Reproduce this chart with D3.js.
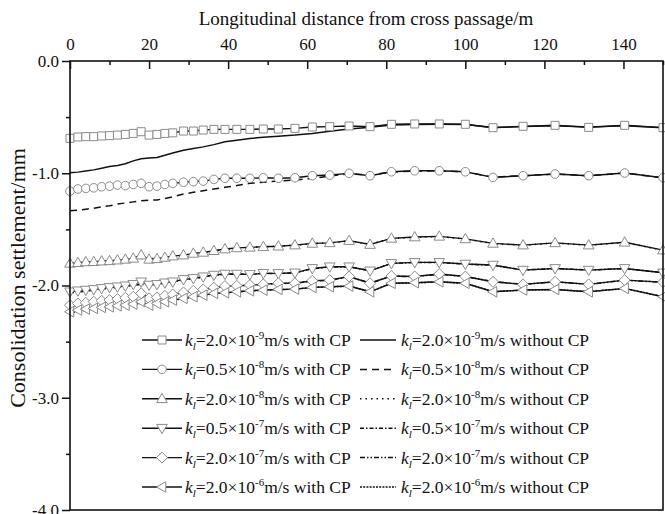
<!DOCTYPE html>
<html><head><meta charset="utf-8">
<script src="https://cdn.jsdelivr.net/npm/d3@7"></script>
<style>
body{margin:0;background:#fff}
svg{display:block}
text{font-family:"Liberation Serif","Times New Roman",serif;fill:#111}
</style>
</head><body>
<svg id="c" width="665" height="514"></svg>
<script>
// ---------- DATA ----------
const distance = [0,2,4,6,8,10,12,14,16,18,20,22,24,26,28.7,31.2,33.7,36.4,39.2,42.2,45.5,48.9,52.7,56.9,61.3,65.7,70.6,75.9,81.3,87.2,93.4,100,107,114.6,122.7,131.2,140.3,150];

const xTicks = [0,20,40,60,80,100,120,140];
const xMinorTicks = [10,30,50,70,90,110,130,150];
const yTicks = [0,-1,-2,-3,-4];
const yMinorTicks = [-0.5,-1.5,-2.5,-3.5];

const coefLabels = ["2.0","0.5","2.0","0.5","2.0","2.0"];
const expLabels  = ["-9","-8","-8","-7","-7","-6"];

// with cross passage (markers)
const cp_2e9 = [-0.689,-0.677,-0.674,-0.674,-0.668,-0.665,-0.66,-0.654,-0.645,-0.63,-0.66,-0.654,-0.645,-0.64,-0.624,-0.624,-0.615,-0.609,-0.609,-0.609,-0.609,-0.606,-0.606,-0.6,-0.588,-0.585,-0.579,-0.585,-0.564,-0.561,-0.561,-0.564,-0.594,-0.582,-0.573,-0.591,-0.573,-0.594];
const cp_05e8 = [-1.16,-1.14,-1.135,-1.13,-1.12,-1.115,-1.105,-1.11,-1.10,-1.09,-1.12,-1.115,-1.10,-1.09,-1.08,-1.075,-1.07,-1.055,-1.045,-1.045,-1.045,-1.04,-1.045,-1.04,-1.022,-1.016,-1.001,-1.022,-0.987,-0.978,-0.978,-0.987,-1.037,-1.022,-1.007,-1.022,-0.998,-1.04];
const cp_2e8 = [-1.803,-1.797,-1.79,-1.788,-1.783,-1.78,-1.774,-1.767,-1.758,-1.729,-1.767,-1.762,-1.75,-1.738,-1.729,-1.714,-1.705,-1.69,-1.675,-1.665,-1.66,-1.655,-1.65,-1.64,-1.625,-1.62,-1.60,-1.635,-1.58,-1.568,-1.562,-1.585,-1.625,-1.64,-1.62,-1.64,-1.615,-1.685];
const cp_05e7 = [-2.056,-2.047,-2.041,-2.035,-2.026,-2.017,-2.011,-2.003,-1.99,-1.967,-1.996,-1.99,-1.976,-1.967,-1.946,-1.937,-1.922,-1.907,-1.898,-1.898,-1.901,-1.892,-1.892,-1.887,-1.848,-1.833,-1.833,-1.869,-1.803,-1.794,-1.794,-1.809,-1.818,-1.863,-1.848,-1.863,-1.848,-1.887];
const cp_2e7 = [-2.175,-2.16,-2.154,-2.145,-2.136,-2.13,-2.121,-2.11,-2.1,-2.07,-2.115,-2.106,-2.092,-2.08,-2.062,-2.047,-2.035,-2.02,-2.005,-2.003,-1.996,-1.99,-1.98,-1.98,-1.958,-1.952,-1.92,-1.98,-1.916,-1.92,-1.898,-1.92,-1.967,-1.99,-1.967,-1.99,-1.952,-1.97];
const cp_2e6 = [-2.234,-2.219,-2.21,-2.204,-2.195,-2.19,-2.181,-2.175,-2.166,-2.145,-2.175,-2.16,-2.145,-2.13,-2.115,-2.1,-2.086,-2.07,-2.065,-2.056,-2.047,-2.041,-2.035,-2.032,-2.017,-2.011,-2.005,-2.056,-1.98,-1.975,-1.967,-1.98,-2.056,-2.04,-2.035,-2.056,-2.026,-2.10];

// without cross passage (lines)
const nocp_2e9 = [-0.995,-0.99,-0.98,-0.97,-0.955,-0.94,-0.93,-0.915,-0.89,-0.87,-0.865,-0.86,-0.84,-0.82,-0.795,-0.78,-0.765,-0.745,-0.72,-0.705,-0.69,-0.68,-0.67,-0.66,-0.645,-0.625,-0.605,-0.59,-0.57,-0.565,-0.563,-0.566,-0.592,-0.583,-0.576,-0.588,-0.577,-0.594];
const nocp_05e8 = [-1.334,-1.33,-1.32,-1.313,-1.30,-1.29,-1.275,-1.265,-1.255,-1.245,-1.24,-1.238,-1.225,-1.21,-1.185,-1.17,-1.155,-1.14,-1.125,-1.11,-1.09,-1.08,-1.07,-1.06,-1.046,-1.025,-1.005,-1.015,-0.99,-0.98,-0.978,-0.987,-1.035,-1.022,-1.007,-1.022,-0.998,-1.04];
const nocp_2e8 = [-1.815,-1.81,-1.803,-1.797,-1.79,-1.785,-1.778,-1.77,-1.765,-1.76,-1.762,-1.758,-1.75,-1.74,-1.73,-1.718,-1.707,-1.693,-1.678,-1.667,-1.66,-1.655,-1.65,-1.64,-1.627,-1.622,-1.603,-1.632,-1.582,-1.57,-1.563,-1.586,-1.626,-1.641,-1.621,-1.641,-1.616,-1.686];
const nocp_05e7 = [-2.065,-2.058,-2.05,-2.042,-2.033,-2.025,-2.017,-2.008,-1.998,-1.99,-1.993,-1.988,-1.978,-1.968,-1.95,-1.94,-1.925,-1.91,-1.90,-1.90,-1.90,-1.893,-1.892,-1.888,-1.85,-1.835,-1.834,-1.868,-1.804,-1.795,-1.795,-1.81,-1.819,-1.862,-1.849,-1.862,-1.849,-1.886];
const nocp_2e7 = [-2.19,-2.175,-2.165,-2.155,-2.145,-2.135,-2.127,-2.117,-2.107,-2.095,-2.11,-2.103,-2.092,-2.08,-2.065,-2.05,-2.037,-2.022,-2.008,-2.004,-1.998,-1.99,-1.982,-1.98,-1.96,-1.953,-1.921,-1.979,-1.917,-1.921,-1.899,-1.921,-1.966,-1.989,-1.968,-1.989,-1.953,-1.971];
const nocp_2e6 = [-2.245,-2.23,-2.218,-2.208,-2.198,-2.19,-2.182,-2.175,-2.168,-2.158,-2.172,-2.16,-2.147,-2.132,-2.117,-2.102,-2.088,-2.072,-2.066,-2.057,-2.048,-2.042,-2.036,-2.033,-2.018,-2.012,-2.006,-2.055,-1.981,-1.976,-1.968,-1.981,-2.055,-2.041,-2.036,-2.055,-2.027,-2.099];

const cpSeries   = [cp_2e9, cp_05e8, cp_2e8, cp_05e7, cp_2e7, cp_2e6];
const nocpSeries = [nocp_2e9, nocp_05e8, nocp_2e8, nocp_05e7, nocp_2e7, nocp_2e6];

// ---------- STYLE ----------
const markerShapes = ["square","circle","up","down","diamond","left"];
const dashes = [null,"7,5","1.5,4","4,2,1.5,2","5,2,1.5,2,1.5,2","2,1.2"];

const svg = d3.select("#c");
const x = d3.scaleLinear().domain([0,150]).range([70,663]);
const y = d3.scaleLinear().domain([-4,0]).range([510,61]);

function markerPath(shape, cx, cy){
  const p = d3.path();
  if(shape==="square"){ p.rect(cx-4,cy-4,8,8); }
  else if(shape==="circle"){ p.moveTo(cx+4.3,cy); p.arc(cx,cy,4.3,0,2*Math.PI); }
  else if(shape==="up"){ p.moveTo(cx,cy-5.5); p.lineTo(cx+5.3,cy+3.8); p.lineTo(cx-5.3,cy+3.8); p.closePath(); }
  else if(shape==="down"){ p.moveTo(cx,cy+5.5); p.lineTo(cx+5.3,cy-3.8); p.lineTo(cx-5.3,cy-3.8); p.closePath(); }
  else if(shape==="diamond"){ p.moveTo(cx,cy-5.5); p.lineTo(cx+5.5,cy); p.lineTo(cx,cy+5.5); p.lineTo(cx-5.5,cy); p.closePath(); }
  else if(shape==="left"){ p.moveTo(cx-5.5,cy); p.lineTo(cx+3.8,cy-5.3); p.lineTo(cx+3.8,cy+5.3); p.closePath(); }
  return p.toString();
}

const line = d3.line().x((d,i)=>x(distance[i])).y(d=>y(d));

// without-CP lines
const gNo = svg.append("g");
nocpSeries.forEach((s,k)=>{
  gNo.append("path").attr("d", line(s)).attr("fill","none")
    .attr("stroke","#111").attr("stroke-width",1.5)
    .attr("stroke-dasharray", dashes[k]);
});
// with-CP lines + markers
const gCp = svg.append("g");
cpSeries.forEach((s,k)=>{
  gCp.append("path").attr("d", line(s)).attr("fill","none")
    .attr("stroke","#111").attr("stroke-width",1.4);
});
cpSeries.forEach((s,k)=>{
  gCp.append("g").selectAll("path").data(s).join("path")
    .attr("d",(d,i)=>markerPath(markerShapes[k], x(distance[i]), y(d)))
    .attr("fill","#fff").attr("stroke","#8a8a8a").attr("stroke-width",1);
});

// ---------- AXES ----------
const axTop = svg.append("g").attr("transform","translate(0,61)")
  .call(d3.axisTop(x).tickValues(xTicks).tickSize(-8).tickPadding(11).tickFormat(d=>String(d)));
axTop.select(".domain").remove();
axTop.selectAll("text").style("font-size","17px").attr("font-family",'"Liberation Serif",serif');
axTop.selectAll("line").attr("stroke","#111").attr("stroke-width",1.5);
svg.append("g").attr("transform","translate(0,61)")
  .call(d3.axisTop(x).tickValues(xMinorTicks).tickSize(-4).tickFormat(""))
  .call(g=>{g.select(".domain").remove(); g.selectAll("line").attr("stroke","#111").attr("stroke-width",1.5);});

const axLeft = svg.append("g").attr("transform","translate(70,0)")
  .call(d3.axisLeft(y).tickValues(yTicks).tickSize(8).tickPadding(3).tickFormat(d=>d.toFixed(1)));
axLeft.select(".domain").remove();
axLeft.selectAll("text").style("font-size","17px").attr("font-family",'"Liberation Serif",serif');
axLeft.selectAll("line").attr("stroke","#111").attr("stroke-width",1.5);
svg.append("g").attr("transform","translate(70,0)")
  .call(d3.axisLeft(y).tickValues(yMinorTicks).tickSize(4).tickFormat(""))
  .call(g=>{g.select(".domain").remove(); g.selectAll("line").attr("stroke","#111").attr("stroke-width",1.5);});

// frame
svg.append("rect").attr("x",70).attr("y",61).attr("width",593).attr("height",449)
  .attr("fill","none").attr("stroke","#111").attr("stroke-width",1.6);

// titles
svg.append("text").attr("x",366).attr("y",25).attr("text-anchor","middle")
  .style("font-size","19px").text("Longitudinal distance from cross passage/m");
svg.append("text").attr("transform","translate(25,278) rotate(-90)").attr("text-anchor","middle")
  .style("font-size","22px").text("Consolidation settlement/mm");

// ---------- LEGEND ----------
const legY0 = 340, legDy = 29.4;
const gL = svg.append("g");
function legText(g, tx, ty, k, tail){
  const t = g.append("text").attr("x",tx).attr("y",ty).style("font-size","17.5px");
  t.append("tspan").attr("font-style","italic").text("k");
  t.append("tspan").attr("font-style","italic").attr("dy",4).style("font-size","11px").text("l");
  t.append("tspan").attr("dy",-4).text("="+coefLabels[k]+"\u00d710");
  t.append("tspan").attr("dy",-7).style("font-size","11px").text(expLabels[k]);
  t.append("tspan").attr("dy",7).text("m/s "+tail);
}
coefLabels.forEach((c,k)=>{
  const ly = legY0 + k*legDy;
  gL.append("line").attr("x1",142).attr("x2",182).attr("y1",ly).attr("y2",ly)
    .attr("stroke","#111").attr("stroke-width",1.4);
  gL.append("path").attr("d",markerPath(markerShapes[k],162,ly))
    .attr("fill","#fff").attr("stroke","#8a8a8a").attr("stroke-width",1);
  legText(gL,185,ly+6,k,"with CP");
  gL.append("line").attr("x1",360).attr("x2",396).attr("y1",ly).attr("y2",ly)
    .attr("stroke","#111").attr("stroke-width",1.5).attr("stroke-dasharray",dashes[k]);
  legText(gL,401,ly+6,k,"without CP");
});
</script>
</body></html>
